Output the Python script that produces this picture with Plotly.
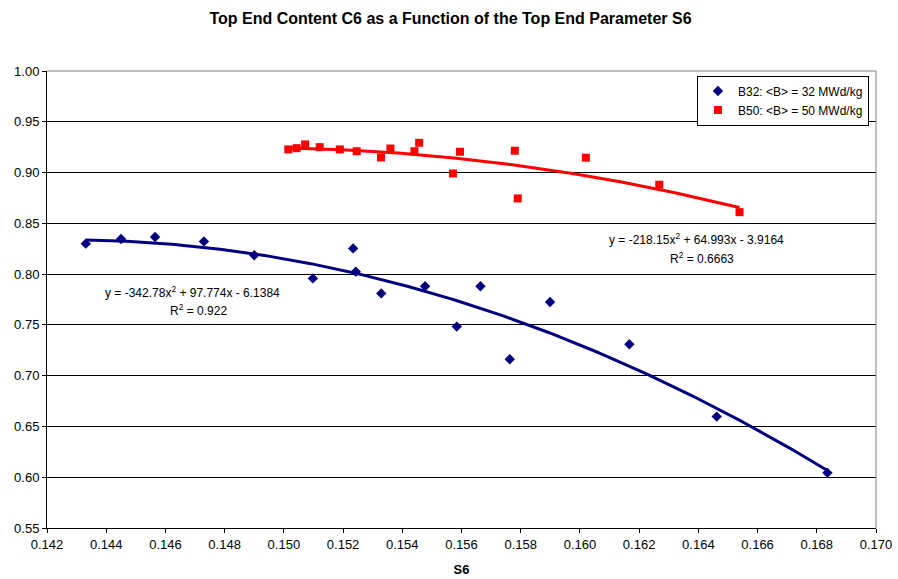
import numpy as np
import plotly.graph_objects as go

# ---- data ----
b32_s6 = [0.14331, 0.14450, 0.14565, 0.14730, 0.14900, 0.15098, 0.15234, 0.15243,
          0.15329, 0.15477, 0.15584, 0.15664, 0.15763, 0.15899, 0.16167, 0.16462, 0.16836]
b32_c6 = [0.830, 0.8345, 0.8365, 0.8322, 0.8185, 0.7958, 0.8253, 0.8024,
          0.781, 0.788, 0.7483, 0.788, 0.7161, 0.7725, 0.7309, 0.6597, 0.6043]

b50_s6 = [0.15015, 0.15043, 0.15072, 0.15121, 0.15189, 0.15246, 0.15328, 0.15360,
          0.15441, 0.15457, 0.15571, 0.15595, 0.15780, 0.15790, 0.16020, 0.16268, 0.16539]
b50_c6 = [0.9228, 0.924, 0.9277, 0.925, 0.9228, 0.921, 0.9149, 0.9237,
          0.921, 0.9293, 0.8991, 0.9205, 0.9215, 0.8745, 0.9146, 0.888, 0.861]

# trendline coefficients as printed on the chart (a*x^2 + b*x + c)
b32_coef = [-342.78, 97.774, -6.1384]
b32_r2 = "0.922"
b50_coef = [-218.15, 64.993, -3.9164]
b50_r2 = "0.6663"

series_names = ["B32: &lt;B&gt; = 32 MWd/kg", "B50: &lt;B&gt; = 50 MWd/kg"]
title_text = "Top End Content C6 as a Function of the Top End Parameter S6"
x_title = "S6"

NAVY = "#000080"
RED = "#FF0000"
FONT = "Liberation Sans, Arial, sans-serif"


def trend(xs, coef):
    xx = np.linspace(min(xs), max(xs), 200)
    return xx, np.polyval(coef, xx)


def eq_text(coef):
    a, b, c = coef
    sign = "-" if c < 0 else "+"
    return f"y = {a:g}x<sup>2</sup> + {b:g}x {sign} {abs(c):g}"


fig = go.Figure()

tx, ty = trend(b32_s6, b32_coef)
fig.add_trace(go.Scatter(x=tx, y=ty, mode="lines", line=dict(color=NAVY, width=3),
                         showlegend=False, hoverinfo="skip"))
tx, ty = trend(b50_s6, b50_coef)
fig.add_trace(go.Scatter(x=tx, y=ty, mode="lines", line=dict(color=RED, width=3),
                         showlegend=False, hoverinfo="skip"))

fig.add_trace(go.Scatter(x=b32_s6, y=b32_c6, mode="markers", name=series_names[0],
                         marker=dict(symbol="diamond", size=8, color=NAVY)))
fig.add_trace(go.Scatter(x=b50_s6, y=b50_c6, mode="markers", name=series_names[1],
                         marker=dict(symbol="square", size=8, color=RED)))

ann_font = dict(family=FONT, size=12, color="#000000")
annotations = [
    dict(x=0.14693, y=0.7825, text=eq_text(b32_coef)),
    dict(x=0.14710, y=0.7648, text=f"R<sup>2</sup> = {b32_r2}"),
    dict(x=0.16393, y=0.8342, text=eq_text(b50_coef)),
    dict(x=0.16413, y=0.8155, text=f"R<sup>2</sup> = {b50_r2}"),
]
for a in annotations:
    a.update(xref="x", yref="y", showarrow=False, font=ann_font,
             xanchor="center", yanchor="middle")

fig.update_layout(
    width=898, height=579,
    margin=dict(l=47, r=22, t=70.5, b=51.3, pad=0),
    paper_bgcolor="white", plot_bgcolor="white",
    font=dict(family=FONT, size=12, color="#000000"),
    title=dict(text=f"<b>{title_text}</b>", x=450.5 / 898, xanchor="center",
               y=1 - 18 / 579, yanchor="middle", font=dict(size=16, family=FONT)),
    legend=dict(x=0.9915, y=0.990, xanchor="right", yanchor="top",
                bgcolor="white", bordercolor="#000000", borderwidth=1,
                font=dict(family=FONT, size=12), tracegroupgap=2),
    annotations=annotations,
    shapes=[
        dict(type="line", xref="paper", yref="paper", x0=1, x1=1, y0=0, y1=1,
             line=dict(color="#808080", width=1)),
        dict(type="line", xref="paper", yref="paper", x0=0, x1=1, y0=1, y1=1,
             line=dict(color="#808080", width=1)),
    ],
)

fig.update_xaxes(
    range=[0.142, 0.170], dtick=0.002, tick0=0.142, tickformat=".3f",
    showgrid=False, zeroline=False, showline=True, linecolor="#000000", linewidth=1,
    ticks="outside", ticklen=4, tickcolor="#000000", automargin=False,
    title=dict(text=f"<b>{x_title}</b>", font=dict(size=13, family=FONT), standoff=14),
    tickfont=dict(size=13, family=FONT),
)
fig.update_yaxes(
    range=[0.55, 1.00], dtick=0.05, tick0=0.55, tickformat=".2f",
    showgrid=True, gridcolor="#000000", gridwidth=1,
    zeroline=False, showline=True, linecolor="#000000", linewidth=1,
    ticks="outside", ticklen=4, tickcolor="#000000", automargin=False,
    tickfont=dict(size=13, family=FONT),
)

fig.write_html("out.html")
